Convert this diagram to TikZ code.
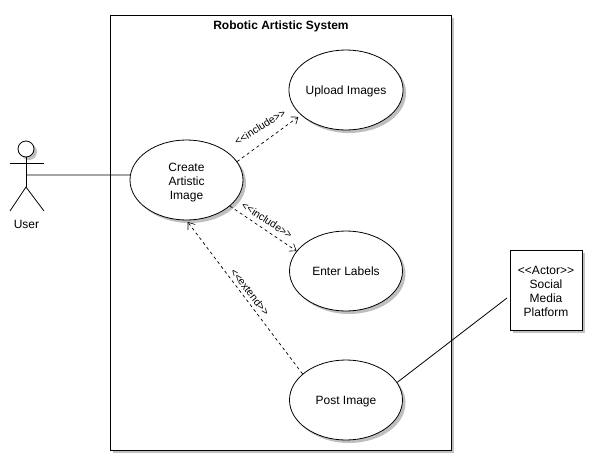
\documentclass[tikz,border=0pt]{standalone}
\usepackage{fontspec}
\setmainfont{Liberation Sans}
\usetikzlibrary{arrows.meta,shapes.geometric,shadows}
\tikzset{
  softshadow/.style={general shadow={shadow xshift=3pt,shadow yshift=-3pt,opacity=0.45,fill=black!55}},
  usecase/.style={ellipse,draw,fill=white,minimum width=113pt,minimum height=80pt,inner sep=0pt,align=center,softshadow},
  oneline/.style={text height=11pt,text depth=3pt},
  lbl/.style={font=\fontsize{12}{14}\selectfont,align=center},
  stereo/.style={font=\fontsize{10.5}{12}\selectfont},
  dep/.style={line width=0.7pt,dash pattern=on 3pt off 3pt,-{Straight Barb[length=6pt,width=9pt,line width=0.6pt]}},
}
\begin{document}
\begin{tikzpicture}[x=1pt,y=-1pt,line width=0.8pt]
  \useasboundingbox (0,0) rectangle (606,472);

  \node (system) at (280.5,232.5) [draw,fill=white,minimum width=341pt,minimum height=435pt,inner sep=0pt,softshadow] {};
  \node (title) at (281,26) [font=\fontsize{12}{14}\selectfont\bfseries] {Robotic Artistic System};

  \node (create) at (186.5,180) [usecase,lbl] {\rule{0pt}{12.6pt}Create\\Artistic\\Image};
  \node (upload) at (346,90) [usecase,lbl,oneline] {Upload Images};
  \node (labels) at (346,271) [usecase,lbl,oneline] {Enter Labels};
  \node (post) at (346,400) [usecase,lbl,oneline] {Post Image};

  \node (platform) at (546,290) [draw,fill=white,minimum width=72pt,minimum height=80pt,inner sep=0pt,softshadow,lbl] {\rule{0pt}{10.6pt}{<}{<}Actor{>}{>}\\Social\\Media\\Platform};

  % stick figure
  \node (head) at (26,149) [circle,draw,fill=white,minimum size=16pt,inner sep=0pt,softshadow] {};
  \coordinate (neck) at (26,157);
  \coordinate (armL) at (10,163);
  \coordinate (armR) at (44,163);
  \coordinate (hip) at (26,187);
  \coordinate (footL) at (10,211);
  \coordinate (footR) at (44,211);
  \coordinate (waist) at (26,175);
  \draw (neck) -- (hip);
  \draw (armL) -- (armR);
  \draw (footL) -- (hip) -- (footR);
  \node (user) at (26.5,224) [lbl] {User};

  \draw (waist) -- (create.175);

  \draw[dep,shorten >=3pt] (create.20.6) -- (upload.209);
  \draw[dep] (create.-31) -- (labels.158.6);
  \draw[dep,shorten >=2pt] (post.149.4) -- (create.270);

  \coordinate (platformend) at (507,298);
  \draw (post.19.4) -- (platformend);

  \node (inc1) at (260,127) [stereo,rotate=32] {{<}{<}include{>}{>}};
  \node (inc2) at (267,220) [stereo,rotate=-33] {{<}{<}include{>}{>}};
  \node (ext) at (250,292) [stereo,rotate=-52] {{<}{<}extend{>}{>}};
\end{tikzpicture}
\end{document}
